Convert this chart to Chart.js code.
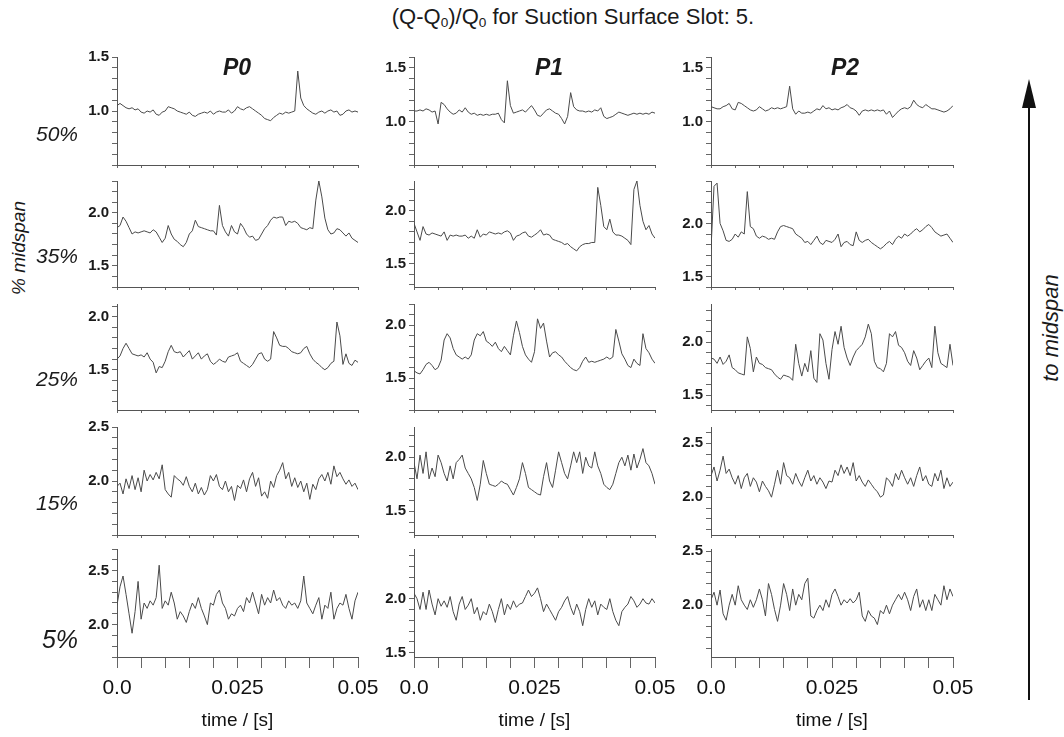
<!DOCTYPE html>
<html>
<head>
<meta charset="utf-8">
<script src="https://cdn.jsdelivr.net/npm/chart.js@4.4.1/dist/chart.umd.min.js"></script>
<style>
  body { margin: 0; background: #fff; font-family: "Liberation Sans", Arial, sans-serif; }
  #page { position: relative; width: 1064px; height: 737px; overflow: hidden; }
  .panel { position: absolute; }
  .lbl { position: absolute; color: #1a1a1a; white-space: nowrap; transform: translate(-50%, -50%); }
  .vert { transform: translate(-50%, -50%) rotate(-90deg); }
  sub { font-size: 0.62em; vertical-align: -0.2em; line-height: 0; }
</style>
</head>
<body>
<div id="page">
  <div class="lbl" style="left:573px;top:17px;font-size:22px;">(Q-Q<sub>0</sub>)/Q<sub>0</sub> for Suction Surface Slot: 5.</div>
  <div class="lbl vert" style="left:19px;top:248px;font-size:19px;font-style:italic;">% midspan</div>
  <div class="lbl vert" style="left:1051px;top:328px;font-size:22px;font-style:italic;">to midspan</div>
  <svg style="position:absolute;left:1010px;top:70px;" width="40" height="640">
    <line x1="19" y1="30" x2="19" y2="630" stroke="#111" stroke-width="2"/>
    <polygon points="19,9 12,38 26,38" fill="#111"/>
  </svg>
</div>
<script>
// time axis end, seconds
const tEnd = 0.05;
const columns = ["P0", "P1", "P2"];
const rowLabels = ["50%", "35%", "25%", "15%", "5%"];
const xTickValues = [0, 0.025, 0.05];
const xTickLabels = ["0.0", "0.025", "0.05"];

// (Q-Q0)/Q0 traces, 81 samples over 0..0.05 s
const p0_50 = [1.05,1.07,1.05,1.03,1.02,1.03,1.01,1.02,0.99,0.98,1.00,
  0.99,1.01,0.97,0.96,0.99,1.00,1.04,1.03,1.02,1.00,
  0.99,0.98,0.97,0.99,0.96,0.95,0.97,0.98,0.99,0.98,
  1.00,0.97,0.99,1.00,0.99,0.99,1.01,0.98,1.00,1.04,
  1.02,1.01,1.03,1.04,1.02,1.00,0.98,0.96,0.93,0.92,
  0.91,0.94,0.96,0.98,0.97,0.99,0.98,0.99,1.00,1.37,
  1.12,1.05,1.02,1.00,0.98,0.97,0.99,1.00,0.98,1.00,
  1.01,0.99,1.00,0.96,0.97,1.00,1.01,0.99,1.00,0.99];
const p1_50 = [1.10,1.10,1.11,1.10,1.12,1.11,1.09,1.10,0.98,1.18,
  1.16,1.12,1.09,1.07,1.08,1.11,1.09,1.13,1.09,1.07,
  1.08,1.06,1.07,1.06,1.07,1.06,1.07,1.07,1.08,1.02,
  0.99,1.38,1.15,1.08,1.09,1.10,1.11,1.09,1.12,1.15,
  1.11,1.06,1.05,1.08,1.11,1.12,1.10,1.08,1.07,1.03,
  0.98,1.05,1.27,1.14,1.11,1.10,1.10,1.09,1.10,1.09,
  1.11,1.10,1.13,1.05,1.03,1.04,1.05,1.07,1.09,1.08,
  1.07,1.06,1.07,1.08,1.07,1.08,1.07,1.08,1.07,1.09,1.08];
const p2_50 = [1.14,1.13,1.12,1.12,1.14,1.15,1.17,1.12,1.11,1.18,
  1.17,1.15,1.13,1.11,1.10,1.11,1.14,1.12,1.10,1.11,
  1.13,1.12,1.13,1.12,1.13,1.14,1.33,1.12,1.07,1.10,
  1.08,1.08,1.09,1.08,1.10,1.12,1.11,1.15,1.12,1.13,
  1.11,1.12,1.11,1.13,1.14,1.16,1.13,1.12,1.10,1.06,
  1.10,1.11,1.10,1.11,1.10,1.11,1.10,1.11,1.07,1.10,
  1.04,1.07,1.10,1.12,1.13,1.12,1.14,1.20,1.16,1.14,
  1.13,1.16,1.14,1.12,1.12,1.11,1.10,1.09,1.10,1.12,1.15];

const p0_35 = [1.86,1.88,1.96,1.92,1.86,1.80,1.82,1.81,1.82,1.83,
  1.82,1.81,1.84,1.82,1.77,1.72,1.76,1.88,1.80,1.75,
  1.73,1.70,1.68,1.72,1.80,1.83,1.93,1.87,1.86,1.85,
  1.84,1.83,1.83,1.79,2.07,1.88,1.82,1.78,1.88,1.82,
  1.80,1.90,1.86,1.80,1.77,1.78,1.74,1.75,1.80,1.85,
  1.88,1.93,1.96,1.95,1.96,1.96,1.88,1.92,1.91,1.92,
  1.90,1.86,1.85,1.84,1.86,1.85,2.12,2.30,2.15,1.95,
  1.84,1.80,1.81,1.85,1.84,1.81,1.78,1.81,1.76,1.74,1.72];
const p1_35 = [1.88,1.80,1.72,1.85,1.78,1.77,1.79,1.78,1.77,1.76,
  1.80,1.72,1.77,1.76,1.77,1.76,1.76,1.77,1.74,1.76,
  1.74,1.82,1.75,1.78,1.77,1.80,1.79,1.78,1.79,1.78,
  1.80,1.81,1.79,1.72,1.76,1.77,1.79,1.80,1.76,1.75,
  1.77,1.79,1.82,1.77,1.78,1.77,1.73,1.72,1.71,1.70,
  1.68,1.69,1.66,1.64,1.62,1.66,1.68,1.69,1.69,1.70,
  1.70,2.22,2.05,1.85,1.82,1.92,1.80,1.77,1.77,1.76,
  1.74,1.72,1.68,2.20,2.28,2.05,1.90,1.82,1.86,1.78,1.74];
const p2_35 = [1.76,2.35,2.38,2.00,1.93,1.84,1.83,1.85,1.90,1.87,
  1.92,1.90,2.30,1.97,1.95,1.88,1.86,1.88,1.87,1.85,
  1.86,1.85,1.92,1.97,1.98,1.97,1.96,1.95,1.90,1.88,
  1.86,1.82,1.83,1.80,1.84,1.88,1.82,1.80,1.84,1.83,
  1.82,1.85,1.90,1.78,1.82,1.83,1.80,1.79,1.92,1.84,
  1.82,1.84,1.85,1.82,1.80,1.78,1.76,1.78,1.81,1.83,
  1.80,1.85,1.88,1.86,1.90,1.88,1.90,1.93,1.95,1.92,
  1.94,1.97,1.99,1.96,1.92,1.90,1.88,1.89,1.90,1.86,1.82];

const p0_25 = [1.60,1.63,1.70,1.75,1.70,1.65,1.64,1.63,1.64,1.62,
  1.66,1.60,1.57,1.47,1.53,1.52,1.58,1.67,1.73,1.67,
  1.66,1.67,1.62,1.65,1.68,1.60,1.63,1.66,1.60,1.63,
  1.65,1.58,1.55,1.57,1.60,1.58,1.57,1.62,1.63,1.64,
  1.66,1.58,1.56,1.54,1.52,1.55,1.60,1.65,1.66,1.60,
  1.58,1.60,1.86,1.80,1.73,1.72,1.72,1.70,1.67,1.66,
  1.65,1.66,1.70,1.72,1.65,1.60,1.57,1.55,1.52,1.50,
  1.52,1.56,1.58,1.95,1.82,1.55,1.65,1.56,1.54,1.59,1.57];
const p1_25 = [1.57,1.55,1.54,1.58,1.63,1.65,1.62,1.58,1.60,1.67,
  1.86,1.92,1.88,1.78,1.72,1.70,1.68,1.70,1.68,1.72,
  1.86,1.92,1.90,1.94,1.85,1.83,1.80,1.84,1.78,1.75,
  1.80,1.76,1.72,1.90,2.04,1.93,1.80,1.72,1.68,1.65,
  1.75,2.06,1.97,2.02,1.85,1.70,1.74,1.75,1.72,1.70,
  1.66,1.63,1.60,1.58,1.57,1.60,1.66,1.70,1.65,1.66,
  1.65,1.66,1.67,1.68,1.70,1.68,1.70,1.96,1.85,1.73,
  1.68,1.62,1.60,1.68,1.64,1.62,1.92,1.78,1.74,1.68,1.64];
const p2_25 = [1.85,1.84,1.80,1.86,1.79,1.82,1.88,1.76,1.74,1.71,
  1.70,1.69,2.05,1.94,1.72,1.86,1.80,1.79,1.76,1.75,
  1.74,1.70,1.67,1.65,1.69,1.68,1.67,1.64,1.98,1.80,
  1.68,1.80,1.72,1.92,1.66,1.62,2.08,2.02,1.80,1.65,
  1.93,2.10,1.98,2.15,1.95,1.85,1.78,1.86,1.92,1.95,
  1.98,2.05,2.17,2.08,1.82,1.76,1.75,1.72,1.80,2.08,
  2.05,2.10,1.97,1.95,1.90,1.82,1.78,1.92,1.85,1.74,
  1.78,1.82,1.85,1.76,2.15,1.90,1.80,1.78,1.76,1.98,1.78];

const p0_15 = [1.95,1.98,1.88,2.02,1.93,2.05,1.92,2.03,1.90,2.10,
  2.00,2.06,2.01,2.08,2.02,2.15,1.92,1.88,1.85,2.05,
  2.02,2.00,1.96,2.04,1.95,1.90,1.98,1.88,1.94,1.87,
  1.92,2.05,2.00,2.06,1.95,1.92,2.00,1.90,1.95,1.82,
  1.96,1.93,2.01,1.90,2.02,2.08,1.95,2.03,1.86,1.90,
  1.84,2.00,1.94,2.05,2.10,2.17,2.02,2.08,1.95,2.03,
  1.94,2.00,1.90,1.98,1.83,1.97,1.92,2.02,2.06,2.00,
  2.08,1.97,2.14,2.04,2.08,2.02,1.97,2.01,1.95,1.98,1.92];
const p1_15 = [1.95,1.80,2.02,1.85,2.05,1.80,1.90,1.82,2.02,1.95,
  1.85,1.78,1.92,1.80,1.95,1.98,2.02,1.90,1.85,1.80,
  1.72,1.60,1.75,1.97,1.85,1.75,1.74,1.73,1.75,1.78,
  1.76,1.75,1.70,1.65,1.72,1.80,1.95,1.85,1.72,1.70,
  1.68,1.66,1.65,1.82,1.95,1.78,1.72,1.88,2.05,1.95,
  1.85,1.80,1.92,2.05,1.95,2.05,1.85,2.00,1.92,1.90,
  2.05,1.92,1.85,1.75,1.72,1.70,1.75,1.85,1.95,2.00,
  1.92,2.02,1.88,2.03,1.90,1.98,2.08,1.95,1.92,1.85,1.75];
const p2_15 = [2.20,2.28,2.15,2.25,2.38,2.22,2.26,2.18,2.12,2.20,
  2.08,2.18,2.22,2.10,2.18,2.14,2.05,2.15,2.10,2.06,
  2.00,2.12,2.25,2.12,2.32,2.20,2.18,2.12,2.22,2.15,
  2.10,2.18,2.25,2.15,2.20,2.12,2.18,2.14,2.08,2.15,
  2.14,2.25,2.20,2.30,2.22,2.28,2.20,2.32,2.15,2.20,
  2.14,2.10,2.16,2.12,2.08,2.05,2.00,2.02,2.18,2.15,
  2.10,2.22,2.16,2.25,2.18,2.12,2.18,2.10,2.20,2.28,
  2.15,2.20,2.12,2.10,2.22,2.15,2.25,2.08,2.18,2.10,2.14];

const p0_5 = [2.18,2.35,2.45,2.28,2.10,1.92,2.12,2.40,2.05,2.20,
  2.15,2.22,2.18,2.25,2.55,2.15,2.22,2.18,2.30,2.20,
  2.05,2.12,2.08,2.02,2.12,2.20,2.15,2.25,2.15,2.08,
  2.00,2.20,2.18,2.28,2.32,2.20,2.15,2.05,2.10,2.08,
  2.15,2.18,2.12,2.25,2.20,2.30,2.20,2.10,2.28,2.18,
  2.25,2.20,2.32,2.22,2.25,2.18,2.15,2.22,2.18,2.20,
  2.15,2.22,2.45,2.20,2.15,2.10,2.18,2.25,2.05,2.18,
  2.15,2.30,2.05,2.15,2.20,2.18,2.28,2.15,2.05,2.22,2.30];
const p1_5 = [2.05,2.00,1.90,2.06,1.90,2.08,1.95,1.85,2.00,1.93,
  1.98,1.92,2.02,1.88,1.80,1.95,2.02,1.90,1.94,2.00,
  1.86,1.92,1.80,1.88,1.85,1.95,1.88,1.78,1.90,2.00,
  1.85,1.95,1.90,1.98,1.92,1.95,1.96,2.02,2.08,2.02,
  2.05,2.10,2.00,1.88,1.95,1.90,1.85,1.80,1.88,1.92,
  1.98,2.02,1.92,1.85,1.95,1.88,1.75,1.90,2.00,1.92,
  1.98,1.85,1.95,1.92,1.90,2.00,1.88,1.80,1.75,1.88,
  1.92,1.95,2.02,1.98,1.92,1.95,2.00,1.96,1.95,2.00,1.96];
const p2_5 = [2.05,2.12,2.00,2.14,1.92,1.86,2.00,2.10,2.00,2.18,
  2.05,2.00,1.96,2.05,1.98,2.05,2.15,2.05,1.90,2.20,
  2.10,1.96,1.85,2.00,2.20,2.10,1.95,2.15,2.00,2.10,
  2.05,2.20,2.25,1.90,1.88,1.95,2.00,1.95,2.05,1.98,
  2.10,2.15,2.08,2.00,2.05,2.02,2.06,2.02,2.05,2.12,
  1.90,1.85,1.95,1.90,1.88,1.82,1.95,1.92,2.00,1.92,
  2.00,2.05,2.10,2.05,2.12,2.05,1.95,2.08,2.15,1.98,
  2.05,1.95,2.05,1.95,2.10,2.05,2.00,2.18,2.05,2.15,2.08];

const series = [
  [p0_50, p1_50, p2_50],
  [p0_35, p1_35, p2_35],
  [p0_25, p1_25, p2_25],
  [p0_15, p1_15, p2_15],
  [p0_5, p1_5, p2_5],
];

// y-axis limits per panel [min, max]
const yRanges = [
  [[0.5, 1.5], [0.6, 1.6], [0.6, 1.6]],
  [[1.3, 2.3], [1.28, 2.28], [1.4, 2.4]],
  [[1.12, 2.12], [1.2, 2.2], [1.36, 2.36]],
  [[1.5, 2.5], [1.28, 2.28], [1.65, 2.65]],
  [[1.7, 2.7], [1.46, 2.46], [1.52, 2.52]],
];

// layout of the plot areas (page pixels)
const plotLeft = [117, 414, 711];
const plotRight = [358, 655, 953];
const plotTop = [57, 181, 304, 427, 549];
const plotBottom = [165, 287, 410, 535, 657];

Chart.defaults.font.family = '"Liberation Sans", Arial, sans-serif';
const page = document.getElementById("page");

function addLabel(text, x, y, css) {
  const d = document.createElement("div");
  d.className = "lbl";
  d.textContent = text;
  d.style.left = x + "px";
  d.style.top = y + "px";
  d.style.cssText += css;
  page.appendChild(d);
}

function xLabel(v) {
  for (let k = 0; k < xTickValues.length; k++) {
    if (Math.abs(v - xTickValues[k]) < 1e-9) return xTickLabels[k];
  }
  return "";
}

function makePanel(r, c) {
  const padL = 70, padR = 30, padT = 12;
  const bottomRow = r === rowLabels.length - 1;
  const xh = bottomRow ? 78 : 12;
  const w = plotRight[c] - plotLeft[c];
  const h = plotBottom[r] - plotTop[r];
  const yMin = yRanges[r][c][0];
  const div = document.createElement("div");
  div.className = "panel";
  div.style.left = (plotLeft[c] - padL) + "px";
  div.style.top = (plotTop[r] - padT) + "px";
  const cv = document.createElement("canvas");
  cv.width = w + padL + padR;
  cv.height = h + padT + xh;
  div.appendChild(cv);
  page.appendChild(div);

  const vals = series[r][c];
  const pts = vals.map((v, i) => ({ x: i * tEnd / (vals.length - 1), y: v }));

  new Chart(cv, {
    type: "line",
    data: { datasets: [{ data: pts, borderColor: "#4a4a4a", borderWidth: 1, pointRadius: 0, tension: 0 }] },
    options: {
      responsive: false,
      animation: false,
      layout: { padding: { left: 0, right: padR, top: padT, bottom: 0 } },
      plugins: { legend: { display: false }, tooltip: { enabled: false } },
      scales: {
        x: {
          type: "linear", min: 0, max: tEnd,
          afterFit: (s) => { s.height = xh; },
          ticks: {
            stepSize: 0.005, autoSkip: false, maxRotation: 0, padding: 8,
            color: "#111", font: { size: 21 },
            callback: (v) => (bottomRow ? xLabel(v) : ""),
          },
          grid: { drawOnChartArea: false, tickLength: bottomRow ? 11 : 3, color: "#666" },
          border: { color: "#555" },
          title: {
            display: bottomRow, text: "time / [s]", color: "#111",
            font: { size: 19 }, padding: { top: 0, bottom: 3 },
          },
        },
        y: {
          min: yMin, max: yRanges[r][c][1],
          afterFit: (s) => { s.width = padL; },
          afterBuildTicks: (s) => {
            const t = [];
            for (let k = Math.ceil(s.min * 10 - 1e-6); k <= Math.floor(s.max * 10 + 1e-6); k++) t.push({ value: k / 10 });
            s.ticks = t;
          },
          ticks: {
            autoSkip: false, padding: 3, color: "#1a1a1a", font: { size: 15, weight: "bold" },
            callback: (v) => (Math.abs(v * 2 - Math.round(v * 2)) < 1e-6 && v - yMin > 0.02 ? v.toFixed(1) : ""),
          },
          grid: { drawOnChartArea: false, tickLength: 5, color: "#666" },
          border: { color: "#555" },
        },
      },
    },
  });
}

for (let r = 0; r < rowLabels.length; r++) {
  for (let c = 0; c < columns.length; c++) makePanel(r, c);
}

// column headers and row labels
const headerX = [237, 549, 845];
columns.forEach((name, c) => addLabel(name, headerX[c], 67, "font-size:23px;font-weight:bold;font-style:italic;"));
const rowLabelY = [134, 256, 379, 503, 639];
rowLabels.forEach((name, r) => {
  const big = r === rowLabels.length - 1;
  addLabel(name, big ? 60 : 57, rowLabelY[r], "font-style:italic;font-size:" + (big ? 25 : 21) + "px;");
});
</script>
</body>
</html>
